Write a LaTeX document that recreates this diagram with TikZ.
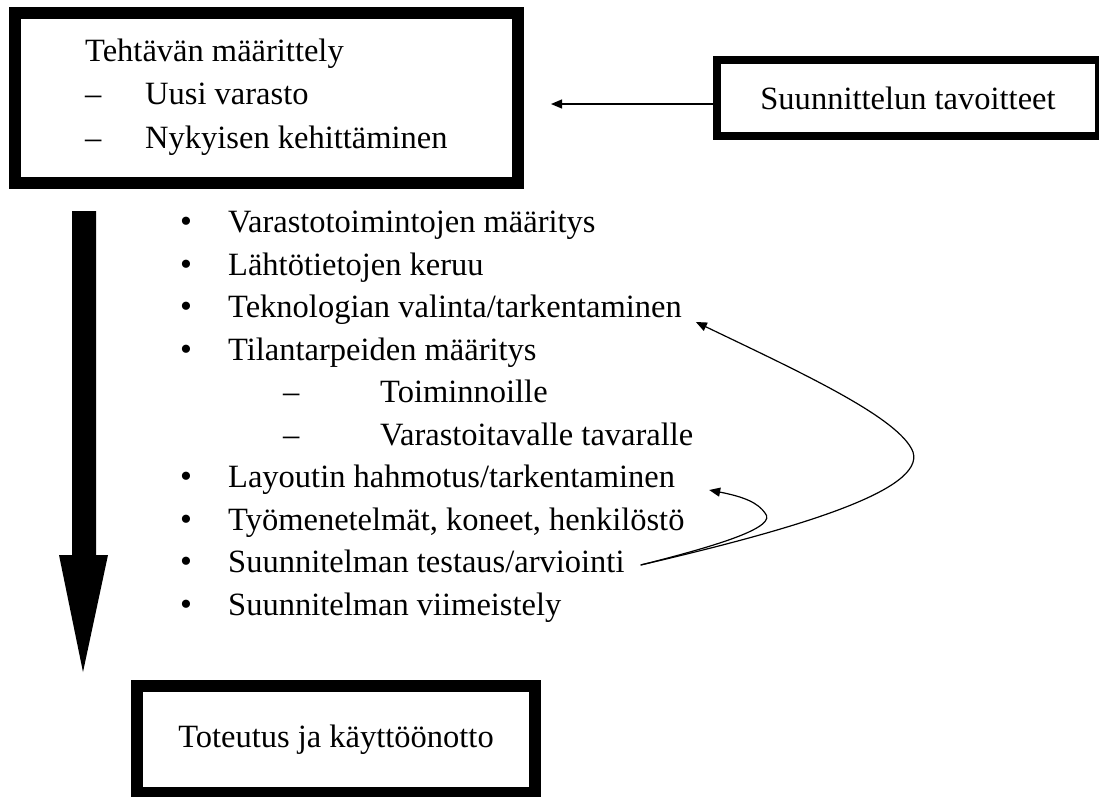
\documentclass[tikz,border=0pt]{standalone}
\usepackage{fontspec}
\setmainfont{Liberation Serif}
\usetikzlibrary{arrows.meta}

\begin{document}
\begin{tikzpicture}[x=1pt, y=1pt]

    % --------------------
    % Tyylit
    % --------------------
    \tikzset{
        laatikko/.style={draw, rectangle, line width=12pt, inner sep=0pt},
        teksti/.style={anchor=west, inner sep=0pt, text height=22pt, text depth=7pt,
                       font=\fontsize{32.5}{38}\selectfont},
        piste/.style={inner sep=0pt, font=\fontsize{34}{34}\selectfont},
        kaari/.style={line width=1.2pt, -{Triangle[length=11pt, width=9pt]}}
    }

    \useasboundingbox (0,0) rectangle (1099,-796);

    % --------------------
    % Tehtävän määrittely
    % --------------------
    \node[laatikko, minimum width=503pt, minimum height=170pt] (tehtava) at (266.5,-98) {};

    \node[teksti] (otsikko) at (85,-54) {Tehtävän määrittely};
    \node[teksti] (viiva1) at (85,-97) {–};
    \node[teksti] (uusi) at (145,-97) {Uusi varasto};
    \node[teksti] (viiva2) at (85,-141) {–};
    \node[teksti] (nykyinen) at (145,-141) {Nykyisen kehittäminen};

    % --------------------
    % Suunnittelun tavoitteet
    % --------------------
    \node[laatikko, line width=8pt, minimum width=382pt, minimum height=76pt,
          font=\fontsize{32.5}{38}\selectfont] (tavoitteet) at (908,-98) {Suunnittelun tavoitteet};

    \coordinate (tavoitteetin) at (551,-104);
    \draw[line width=1.2pt, -{Triangle[length=11pt, width=9pt]}]
        ([yshift=-6pt]tavoitteet.west) -- (tavoitteetin);

    % --------------------
    % Iso nuoli
    % --------------------
    \fill (72,-211) -- (96,-211) -- (96,-555) -- (108,-555) --
          (83,-672) -- (59,-555) -- (72,-555) -- cycle;

    % --------------------
    % Vaiheet
    % --------------------
    \foreach \y/\txt [count=\i] in {
        225/{Varastotoimintojen määritys},
        267.5/{Lähtötietojen keruu},
        310/{Teknologian valinta/tarkentaminen},
        352.5/{Tilantarpeiden määritys},
        480/{Layoutin hahmotus/tarkentaminen},
        522.5/{Työmenetelmät, koneet, henkilöstö},
        565/{Suunnitelman testaus/arviointi},
        607.5/{Suunnitelman viimeistely}}
    {
        \node[piste] (b\i) at (186,-\y) {•};
        \node[teksti] (t\i) at (228,-\y) {\txt};
    }

    \node[teksti] (sviiva1) at (283,-395) {–};
    \node[teksti] (s1) at (380,-395) {Toiminnoille};
    \node[teksti] (sviiva2) at (283,-437.5) {–};
    \node[teksti] (s2) at (380,-437.5) {Varastoitavalle tavaralle};

    % Palautekaaret
    \draw[kaari] ([xshift=16pt]t7.east) .. controls (800,-528) and (925,-490) .. (913,-452)
        .. controls (900,-418) and (800,-372) .. ([shift={(14pt,-12pt)}]t3.east);
    \draw[kaari] ([xshift=16pt]t7.east) .. controls (720,-545) and (778,-527) .. (765,-513)
        .. controls (758,-503) and (745,-497) .. ([shift={(34pt,-10pt)}]t5.east);

    % --------------------
    % Toteutus
    % --------------------
    \node[laatikko, minimum width=398pt, minimum height=107pt,
          font=\fontsize{32.5}{38}\selectfont] (toteutus) at (336,-739.5) {Toteutus ja käyttöönotto};

\end{tikzpicture}
\end{document}
